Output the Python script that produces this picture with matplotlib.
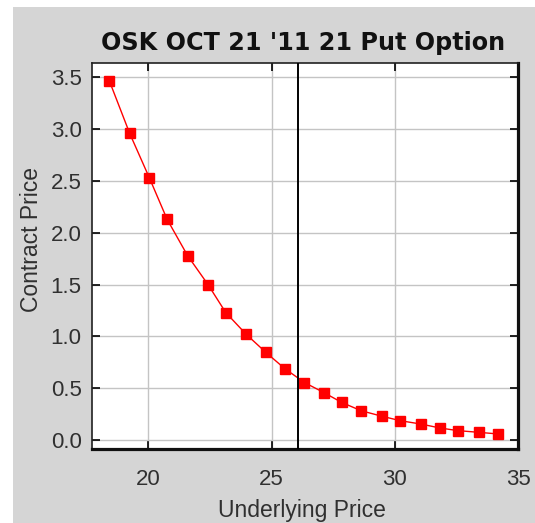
import matplotlib
matplotlib.use("Agg")
import matplotlib.pyplot as plt
from matplotlib.patches import Rectangle

# ---- data ----
underlying = [18.41, 19.24, 20.04, 20.76, 21.59, 22.42, 23.14, 23.97, 24.77, 25.53,
              26.33, 27.12, 27.85, 28.64, 29.50, 30.23, 31.06, 31.85, 32.58, 33.41, 34.20]
contract = [3.47, 2.96, 2.53, 2.13, 1.78, 1.50, 1.23, 1.02, 0.845, 0.69,
            0.555, 0.458, 0.362, 0.282, 0.228, 0.186, 0.154, 0.115, 0.09, 0.074, 0.058]
current_price = 26.08
x_ticks = [20, 25, 30, 35]
y_ticks = [0.0, 0.5, 1.0, 1.5, 2.0, 2.5, 3.0, 3.5]
title = "OSK OCT 21 '11 21 Put Option"
xlabel = "Underlying Price"
ylabel = "Contract Price"

W, H = 535, 523
fig = plt.figure(figsize=(W / 100, H / 100), dpi=100, facecolor="white")

# gray panel
fig.patches.append(Rectangle((13 / W, 0), 1 - 13 / W, 1 - 7 / H, transform=fig.transFigure,
                             facecolor="#d5d5d5", edgecolor="none", zorder=-10))

L, R, T, B = 92, 518, 63, 449
ax = fig.add_axes([L / W, 1 - B / H, (R - L) / W, (B - T) / H])
ax.set_facecolor("white")

ax.plot(underlying, contract, color="#ff0000", lw=1.0, marker="s", markersize=6.8,
        markerfacecolor="#ff0000", markeredgecolor="#ff0000", zorder=3)
ax.axvline(current_price, color="black", lw=1.4, zorder=4)

ax.set_xlim(17.71, 35.0)
ax.set_ylim(-0.087, 3.64)
ax.set_xticks(x_ticks)
ax.set_yticks(y_ticks)
ax.set_xticklabels([str(v) for v in x_ticks])
ax.set_yticklabels([f"{v:.1f}" for v in y_ticks])

ax.grid(True, color="#c4c4c4", lw=1.0, zorder=0)
ax.set_axisbelow(True)

for lab in ax.get_xticklabels() + ax.get_yticklabels():
    lab.set_fontfamily("Liberation Sans")
    lab.set_fontsize(16)
    lab.set_color("#303030")

ax.tick_params(axis="both", which="both", direction="in", length=6, width=1.2,
               color="black", top=True, right=True)
ax.tick_params(axis="x", pad=14.5)
ax.tick_params(axis="y", pad=7.5)

for side in ["left", "top"]:
    ax.spines[side].set_linewidth(1.2)
    ax.spines[side].set_color("#202020")
for side in ["right", "bottom"]:
    ax.spines[side].set_linewidth(2.3)
    ax.spines[side].set_color("#101010")

fig.text(303 / W, 1 - 43 / H, title, ha="center", va="center",
         fontfamily="DejaVu Sans", fontweight="bold", fontsize=17.2, color="#111111")
fig.text(302 / W, 1 - 510 / H, xlabel, ha="center", va="center",
         fontfamily="Liberation Sans", fontsize=16.5, color="#303030")
fig.text(31 / W, 1 - 240 / H, ylabel, ha="center", va="center", rotation=90,
         fontfamily="Liberation Sans", fontsize=16.5, color="#303030")

fig.savefig("out.png", dpi=100, facecolor="white")
